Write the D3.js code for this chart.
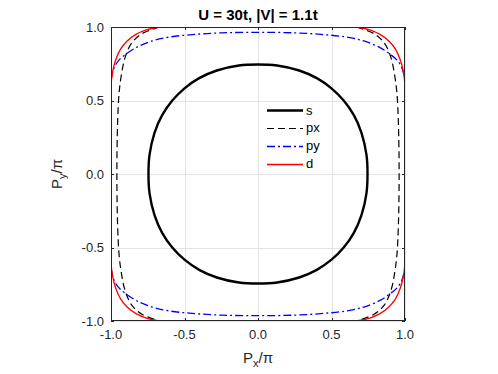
<!DOCTYPE html>
<html>
<head>
<meta charset="utf-8">
<script src="https://cdn.jsdelivr.net/npm/d3@7"></script>
<style>
  body { margin: 0; background: #fff; }
  svg { display: block; font-family: "Liberation Sans", Arial, sans-serif; }
</style>
</head>
<body>
<div id="chart"></div>
<script>
// tick values / labels
var ticks = [-1, -0.5, 0, 0.5, 1];
var tickLabels = ["-1.0", "-0.5", "0.0", "0.5", "1.0"];

// s band (closed contour)
var sX = [0.745, 0.738, 0.704, 0.652, 0.583, 0.50, 0.40, 0.28, 0.13, 0, -0.13, -0.28, -0.40, -0.50, -0.583, -0.652, -0.704, -0.738,
          -0.745, -0.738, -0.704, -0.652, -0.583, -0.50, -0.40, -0.28, -0.13, 0, 0.13, 0.28, 0.40, 0.50, 0.583, 0.652, 0.704, 0.738];
var sY = [0, 0.13, 0.28, 0.40, 0.50, 0.583, 0.652, 0.704, 0.738, 0.745, 0.738, 0.704, 0.652, 0.583, 0.50, 0.40, 0.28, 0.13,
          0, -0.13, -0.28, -0.40, -0.50, -0.583, -0.652, -0.704, -0.738, -0.745, -0.738, -0.704, -0.652, -0.583, -0.50, -0.40, -0.28, -0.13];

// px band: left and right branches (top -> bottom)
var pxLeftX = [-0.67, -0.79, -0.86, -0.905, -0.93, -0.945, -0.955, -0.96, -0.955, -0.945, -0.93, -0.905, -0.86, -0.79, -0.67];
var pxLeftY = [1.0, 0.954, 0.89, 0.79, 0.67, 0.55, 0.35, 0, -0.35, -0.55, -0.67, -0.79, -0.89, -0.954, -1.0];
var pxRightX = [0.67, 0.79, 0.86, 0.905, 0.93, 0.945, 0.955, 0.96, 0.955, 0.945, 0.93, 0.905, 0.86, 0.79, 0.67];
var pxRightY = [1.0, 0.954, 0.89, 0.79, 0.67, 0.55, 0.35, 0, -0.35, -0.55, -0.67, -0.79, -0.89, -0.954, -1.0];

// py band: top and bottom branches (left -> right)
var pyTopX = [-1, -0.98, -0.95, -0.905, -0.83, -0.72, -0.6, -0.45, -0.25, 0, 0.25, 0.45, 0.6, 0.72, 0.83, 0.905, 0.95, 0.98, 1];
var pyTopY = [0.64, 0.72, 0.77, 0.81, 0.86, 0.905, 0.932, 0.948, 0.96, 0.964, 0.96, 0.948, 0.932, 0.905, 0.86, 0.81, 0.77, 0.72, 0.64];
var pyBotX = [-1, -0.98, -0.95, -0.905, -0.83, -0.72, -0.6, -0.45, -0.25, 0, 0.25, 0.45, 0.6, 0.72, 0.83, 0.905, 0.95, 0.98, 1];
var pyBotY = [-0.64, -0.72, -0.77, -0.81, -0.86, -0.905, -0.932, -0.948, -0.96, -0.964, -0.96, -0.948, -0.932, -0.905, -0.86, -0.81, -0.77, -0.72, -0.64];

// d band: four corner arcs (edge x=+-1 -> edge y=+-1)
var dTLX = [-1, -0.99, -0.97, -0.935, -0.89, -0.83, -0.76, -0.7, -0.64];
var dTLY = [0.6, 0.69, 0.77, 0.85, 0.905, 0.95, 0.98, 0.995, 1.0];
var dTRX = [1, 0.99, 0.97, 0.935, 0.89, 0.83, 0.76, 0.7, 0.64];
var dTRY = [0.6, 0.69, 0.77, 0.85, 0.905, 0.95, 0.98, 0.995, 1.0];
var dBLX = [-1, -0.99, -0.97, -0.935, -0.89, -0.83, -0.76, -0.7, -0.64];
var dBLY = [-0.6, -0.69, -0.77, -0.85, -0.905, -0.95, -0.98, -0.995, -1.0];
var dBRX = [1, 0.99, 0.97, 0.935, 0.89, 0.83, 0.76, 0.7, 0.64];
var dBRY = [-0.6, -0.69, -0.77, -0.85, -0.905, -0.95, -0.98, -0.995, -1.0];

var legendNames = ["s", "px", "py", "d"];

function zip(xs, ys) { return xs.map(function(v, i) { return [v, ys[i]]; }); }

var width = 498, height = 374;
var margin = {top: 27, left: 111, bottom: 53, right: 93};
var plotW = width - margin.left - margin.right;
var plotH = height - margin.top - margin.bottom;
var axisColor = "#262626";

var xScale = d3.scaleLinear().domain([-1, 1]).range([margin.left, margin.left + plotW]);
var yScale = d3.scaleLinear().domain([-1, 1]).range([margin.top + plotH, margin.top]);

var svg = d3.select("#chart").append("svg")
  .attr("width", width)
  .attr("height", height);

svg.append("defs").append("clipPath").attr("id", "clip")
  .append("rect")
  .attr("x", margin.left).attr("y", margin.top)
  .attr("width", plotW).attr("height", plotH);

// grid
var grid = svg.append("g").attr("stroke", "#e3e3e3").attr("stroke-width", 1);
grid.selectAll("line.gx").data(ticks).enter().append("line")
  .attr("x1", function(d) { return Math.round(xScale(d)) + 0.5; })
  .attr("x2", function(d) { return Math.round(xScale(d)) + 0.5; })
  .attr("y1", margin.top).attr("y2", margin.top + plotH);
grid.selectAll("line.gy").data(ticks).enter().append("line")
  .attr("y1", function(d) { return Math.round(yScale(d)) + 0.5; })
  .attr("y2", function(d) { return Math.round(yScale(d)) + 0.5; })
  .attr("x1", margin.left).attr("x2", margin.left + plotW);

// series
var line = d3.line()
  .x(function(d) { return xScale(d[0]); })
  .y(function(d) { return yScale(d[1]); })
  .curve(d3.curveCatmullRom.alpha(0.5));
var lineClosed = d3.line()
  .x(function(d) { return xScale(d[0]); })
  .y(function(d) { return yScale(d[1]); })
  .curve(d3.curveCatmullRomClosed.alpha(0.5));

var series = [
  {name: "s", color: "#000000", width: 2.4, dash: null, parts: [zip(sX, sY)], closed: true},
  {name: "px", color: "#000000", width: 1.2, dash: "7,4", parts: [zip(pxLeftX, pxLeftY), zip(pxRightX, pxRightY)]},
  {name: "py", color: "#0000ff", width: 1.3, dash: "8,3,2,3", parts: [zip(pyTopX, pyTopY), zip(pyBotX, pyBotY)]},
  {name: "d", color: "#ff0000", width: 1.3, dash: null,
   parts: [zip(dTLX, dTLY), zip(dTRX, dTRY), zip(dBLX, dBLY), zip(dBRX, dBRY)]}
];

var plot = svg.append("g").attr("clip-path", "url(#clip)");
series.forEach(function(s) {
  plot.selectAll(null).data(s.parts).enter().append("path")
    .attr("d", function(p) { return s.closed ? lineClosed(p) : line(p); })
    .attr("fill", "none")
    .attr("stroke", s.color)
    .attr("stroke-width", s.width)
    .attr("stroke-dasharray", s.dash);
});

// box + ticks
svg.append("rect")
  .attr("x", margin.left + 0.5).attr("y", margin.top + 0.5)
  .attr("width", plotW - 1).attr("height", plotH - 1)
  .attr("fill", "none").attr("stroke", axisColor).attr("stroke-width", 1);

var tk = svg.append("g").attr("stroke", axisColor).attr("stroke-width", 1);
var tl = 3;
ticks.forEach(function(t) {
  var x = Math.round(xScale(t)) + 0.5, y = Math.round(yScale(t)) + 0.5;
  tk.append("line").attr("x1", x).attr("x2", x).attr("y1", margin.top + plotH).attr("y2", margin.top + plotH - tl);
  tk.append("line").attr("x1", x).attr("x2", x).attr("y1", margin.top).attr("y2", margin.top + tl);
  tk.append("line").attr("y1", y).attr("y2", y).attr("x1", margin.left).attr("x2", margin.left + tl);
  tk.append("line").attr("y1", y).attr("y2", y).attr("x1", margin.left + plotW).attr("x2", margin.left + plotW - tl);
});

// tick labels
svg.append("g").selectAll("text").data(ticks).enter().append("text")
  .attr("x", function(d) { return xScale(d); })
  .attr("y", margin.top + plotH + 18)
  .attr("text-anchor", "middle")
  .attr("fill", axisColor)
  .style("font-size", "13px")
  .text(function(d, i) { return tickLabels[i]; });
svg.append("g").selectAll("text").data(ticks).enter().append("text")
  .attr("x", margin.left - 7)
  .attr("y", function(d) { return yScale(d) + 4.5; })
  .attr("text-anchor", "end")
  .attr("fill", axisColor)
  .style("font-size", "13px")
  .text(function(d, i) { return tickLabels[i]; });

// axis labels
var xl = svg.append("text")
  .attr("x", xScale(0)).attr("y", 363)
  .attr("text-anchor", "middle")
  .attr("fill", axisColor)
  .style("font-size", "15px");
xl.append("tspan").text("P");
xl.append("tspan").attr("dy", 4).style("font-size", "11px").text("x");
xl.append("tspan").attr("dy", -4).text("/\u03c0");

var yl = svg.append("text")
  .attr("transform", "translate(62," + yScale(0) + ") rotate(-90)")
  .attr("text-anchor", "middle")
  .attr("fill", axisColor)
  .style("font-size", "15px");
yl.append("tspan").text("P");
yl.append("tspan").attr("dy", 4).style("font-size", "11px").text("y");
yl.append("tspan").attr("dy", -4).text("/\u03c0");

// title
svg.append("text")
  .attr("x", xScale(0)).attr("y", 20)
  .attr("text-anchor", "middle")
  .attr("fill", "#000")
  .style("font-size", "15px")
  .style("font-weight", "700")
  .text("U = 30t, |V| = 1.1t");

// legend
var leg = svg.append("g");
var legY = d3.scaleLinear().domain([0, 3]).range([110, 163.5]);
series.forEach(function(s, i) {
  leg.append("line")
    .attr("x1", 267).attr("x2", 303)
    .attr("y1", Math.round(legY(i)) + 0.5).attr("y2", Math.round(legY(i)) + 0.5)
    .attr("stroke", s.color)
    .attr("stroke-width", s.width)
    .attr("stroke-dasharray", s.dash);
  leg.append("text")
    .attr("x", 306).attr("y", legY(i) + 4.5)
    .attr("fill", "#000")
    .style("font-size", "13px")
    .text(legendNames[i]);
});
</script>
</body>
</html>
